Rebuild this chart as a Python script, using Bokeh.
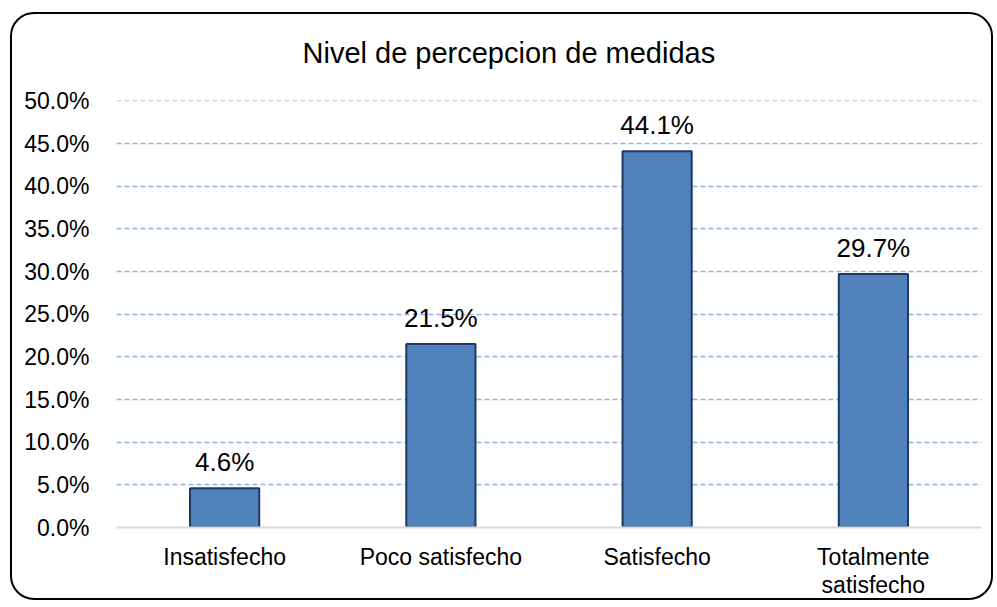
from bokeh.plotting import figure
from bokeh.models import ColumnDataSource, FactorRange, Range1d, FixedTicker, NumeralTickFormatter, Title
from bokeh.core.properties import value
from bokeh.embed import file_html
from bokeh.resources import INLINE

categories = ["Insatisfecho", "Poco satisfecho", "Satisfecho", "Totalmente satisfecho"]
tick_labels = ["Insatisfecho", "Poco satisfecho", "Satisfecho", "Totalmente\nsatisfecho"]
values = [0.046, 0.215, 0.441, 0.297]
labels = ["4.6%", "21.5%", "44.1%", "29.7%"]
y_ticks = [0.0, 0.05, 0.10, 0.15, 0.20, 0.25, 0.30, 0.35, 0.40, 0.45, 0.50]
title_text = "Nivel de percepcion de medidas"

FONT = "Liberation Sans"

src = ColumnDataSource(dict(cat=tick_labels, name=categories, val=values, lab=labels))

p = figure(
    width=983, height=588,
    x_range=FactorRange(*tick_labels),
    y_range=Range1d(0, 0.5005),
    output_backend="svg",
    toolbar_location=None,
    min_border_left=104, min_border_right=14,
    min_border_top=86, min_border_bottom=75,
    title=None,
)
p.margin = (12, 0, 0, 10)
p.styles = {"border": "2px solid black", "border-radius": "24px"}
p.border_fill_color = None
p.background_fill_color = "white"
p.outline_line_color = None

# spacer between title and plot area
p.add_layout(Title(text=" ", text_font_size="22px", standoff=0), "above")
p.add_layout(Title(text=title_text, text_font=FONT, text_font_size="29px",
                   text_font_style="normal", text_color="black",
                   align="left", offset=186), "above")

p.vbar(x="cat", top="val", width=0.32, source=src,
       fill_color="#4F81BD", line_color="#1F3864", line_width=2)

p.text(x="cat", y="val", text="lab", source=src,
       text_font=value(FONT), text_font_size="26px", text_color="black",
       text_align="center", text_baseline="alphabetic", y_offset=-26)

# y axis
p.yaxis.ticker = FixedTicker(ticks=y_ticks)
p.yaxis.formatter = NumeralTickFormatter(format="0.0%")
p.yaxis.axis_line_color = None
p.yaxis.major_tick_line_color = None
p.yaxis.minor_tick_line_color = None
p.yaxis.major_label_text_font = FONT
p.yaxis.major_label_text_font_size = "23px"
p.yaxis.major_label_text_color = "black"
p.yaxis.major_label_standoff = 21

# x axis
p.xaxis.axis_line_color = "#D9D9D9"
p.xaxis.axis_line_width = 2
p.xaxis.major_tick_line_color = None
p.xaxis.minor_tick_line_color = None
p.xaxis.major_label_text_font = FONT
p.xaxis.major_label_text_font_size = "23px"
p.xaxis.major_label_text_color = "black"
p.xaxis.major_label_standoff = 10
p.xaxis.major_label_text_line_height = 1.1

# grid
p.xgrid.grid_line_color = None
p.ygrid.grid_line_color = "#8EB4E3"
p.ygrid.grid_line_width = 1.5
p.ygrid.grid_line_dash = "5 3"

open("out.html", "w").write(file_html(p, INLINE))
